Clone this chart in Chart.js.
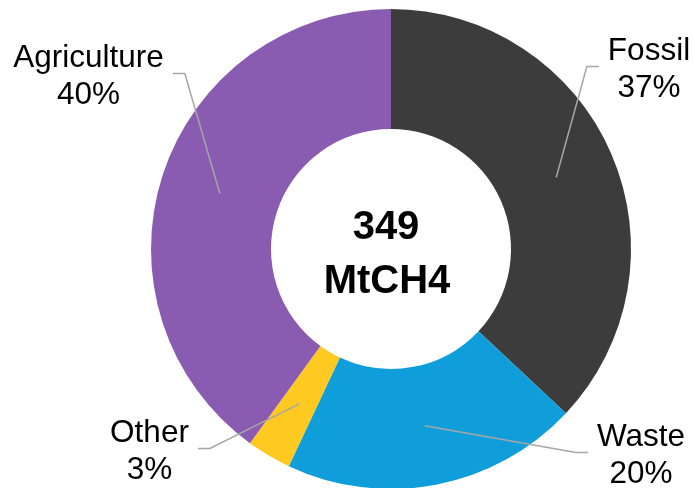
<!DOCTYPE html>
<html>
<head>
<meta charset="utf-8">
<script src="https://cdn.jsdelivr.net/npm/chart.js@4.4.0/dist/chart.umd.min.js"></script>
<style>
  html, body { margin: 0; padding: 0; background: #fff; overflow: hidden; }
  #wrap { width: 695px; height: 488px; overflow: hidden; }
</style>
</head>
<body>
<div id="wrap"><canvas id="chart" width="695" height="490"></canvas></div>
<script>
const categories = ['Fossil', 'Waste', 'Other', 'Agriculture'];
const shares = [37, 20, 3, 40];
const shareLabels = ['37%', '20%', '3%', '40%'];
const centerLines = ['349', 'MtCH4'];

const sliceColors = ['#3c3c3c', '#0f9ed9', '#fec921', '#8a5cb1'];
// where each outside label sits: text centre x, first baseline y, side of the pie
const labelSpots = [
  { x: 649, y: 60, side: 'right' },
  { x: 641, y: 446, side: 'right' },
  { x: 149.5, y: 442, side: 'left' },
  { x: 88.5, y: 67, side: 'left' }
];

const labelFont = '31.5px "Liberation Sans", Arial, sans-serif';
const centerFont = 'bold 40px "Liberation Sans", Arial, sans-serif';

const calloutPlugin = {
  id: 'callouts',
  afterDatasetsDraw(chart) {
    const ctx = chart.ctx;
    const meta = chart.getDatasetMeta(0);
    ctx.save();
    ctx.font = labelFont;
    ctx.fillStyle = '#000';
    ctx.textAlign = 'center';
    ctx.textBaseline = 'alphabetic';

    meta.data.forEach((arc, i) => {
      const spot = labelSpots[i];
      const lines = [categories[i], shareLabels[i]];
      const w = Math.max(...lines.map(t => ctx.measureText(t).width));
      const lineY = spot.y + 6.5;
      const endX = spot.side === 'left' ? spot.x + w / 2 + 9 : spot.x - w / 2 - 9;
      const elbowX = spot.side === 'left' ? endX + 12 : endX - 12;
      const p = arc.tooltipPosition();

      ctx.beginPath();
      ctx.strokeStyle = '#a6a6a6';
      ctx.lineWidth = 1.5;
      ctx.moveTo(endX, lineY);
      ctx.lineTo(elbowX, lineY);
      ctx.lineTo(p.x, p.y);
      ctx.stroke();

      lines.forEach((t, k) => ctx.fillText(t, spot.x, spot.y + k * 36.5));
    });

    // centre text
    const c = meta.data[0];
    ctx.font = centerFont;
    ctx.fillText(centerLines[0], c.x - 5, c.y - 10);
    ctx.fillText(centerLines[1], c.x - 4, c.y + 44);
    ctx.restore();
  }
};

new Chart(document.getElementById('chart'), {
  type: 'doughnut',
  data: {
    labels: categories,
    datasets: [{
      data: shares,
      backgroundColor: sliceColors,
      borderWidth: 0
    }]
  },
  options: {
    responsive: false,
    animation: false,
    events: [],
    cutout: '50%',
    layout: { padding: { left: 151, right: 64, top: 9, bottom: 1 } },
    plugins: {
      legend: { display: false },
      tooltip: { enabled: false }
    }
  },
  plugins: [calloutPlugin]
});
</script>
</body>
</html>
